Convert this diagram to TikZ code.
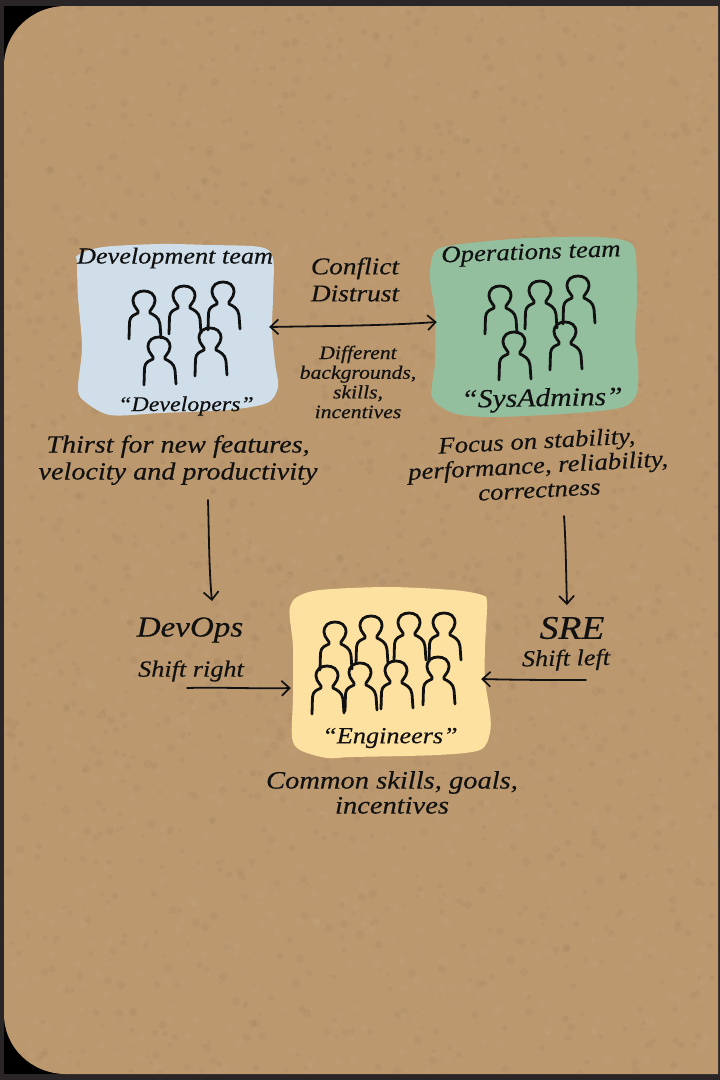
\documentclass[tikz,border=0pt]{standalone}
\usepackage{fontspec}
\setmainfont{Liberation Serif}[FakeStretch=1.14,FakeBold=0.4]
\usetikzlibrary{arrows.meta}
\definecolor{frame}{HTML}{2A2628}
\definecolor{paper}{HTML}{BC986F}
\definecolor{devblue}{HTML}{CFDEE8}
\definecolor{opsgreen}{HTML}{93BF9F}
\definecolor{engyellow}{HTML}{FDE1A0}
\definecolor{ink}{HTML}{111111}
\tikzset{
  x=1pt,y=-1pt,
  person/.pic={
    \draw[ink,line width=2.8pt,line cap=round,line join=round]
      (-15,37) -- (-14.5,20) .. controls (-14,14) and (-10,13) .. (-6,11)
      .. controls (-4,9) and (-11,5) .. (-11,-1)
      .. controls (-11,-8) and (-6,-11) .. (0,-11)
      .. controls (6,-11) and (11,-8) .. (11,-1)
      .. controls (11,5) and (4,9) .. (6,11)
      .. controls (10,13) and (15,15) .. (16,22) -- (17,36);
  },
  blobhit/.style={inner sep=0pt,minimum width=#1,minimum height=160pt},
  hand/.style 2 args={font=\itshape\fontsize{#1}{#2}\selectfont,text=ink,inner sep=0pt,align=center},
  conn/.style={ink,line width=1.8pt,line cap=round,-{Straight Barb[length=8pt,width=15pt,line width=1.7pt]}},
  dconn/.style={ink,line width=1.8pt,line cap=round,{Straight Barb[length=8pt,width=15pt,line width=1.7pt]}-{Straight Barb[length=8pt,width=15pt,line width=1.7pt]}},
}
\begin{document}
\begin{tikzpicture}
\useasboundingbox (0,0) rectangle (720,1080);
\fill[frame] (0,0) rectangle (720,1080);
\fill[black] (4,6) rectangle (80,80);
\fill[black] (4,1000) rectangle (80,1074);
\path[save path=\papershape] (4,66) .. controls (4,32) and (32,6) .. (66,6) -- (718,6) -- (718,1074) -- (66,1074) .. controls (32,1074) and (4,1048) .. (4,1014) -- cycle;
\fill[paper,use path=\papershape];
\begin{scope}
\clip[use path=\papershape];
\pgfmathsetseed{7}
\foreach \i in {1,...,1500}{
  \pgfmathsetmacro\rx{random(4,718)}
  \pgfmathsetmacro\ry{random(6,1074)}
  \pgfmathsetmacro\rr{1.5+3*rnd}
  \fill[black!30!paper,opacity=.10] (\rx,\ry) circle[radius=\rr];
}
\foreach \i in {1,...,1500}{
  \pgfmathsetmacro\rx{random(4,718)}
  \pgfmathsetmacro\ry{random(6,1074)}
  \pgfmathsetmacro\rr{1.5+3*rnd}
  \fill[white!25!paper,opacity=.10] (\rx,\ry) circle[radius=\rr];
}
\end{scope}

% team panels
\fill[devblue] plot[smooth cycle,tension=.5] coordinates {(78,255)(103,247)(160,244)(210,245)(260,247)(273,258)(273,297)(272,330)(275,363)(278,387)(267,403)(227,410)(160,413)(110,415)(83,400)(78,387)(82,347)(78,297)(77,263)};
\fill[opsgreen] plot[smooth cycle,tension=.5] coordinates {(432,258)(440,248)(470,243)(527,238)(593,237)(623,240)(635,250)(637,297)(635,337)(638,363)(637,393)(623,407)(577,413)(493,417)(453,413)(432,397)(435,363)(435,313)(430,280)};
\fill[engyellow] plot[smooth cycle,tension=.5] coordinates {(290,607)(297,597)(320,590)(387,587)(453,590)(482,595)(487,603)(485,647)(485,680)(490,713)(490,733)(480,750)(437,755)(353,757)(327,758)(300,750)(292,737)(293,697)(293,647)(290,620)};

\node[blobhit=184pt] (dev) at (177,327) {};
\node[blobhit=194pt] (ops) at (534,322) {};
\node[blobhit=194pt] (eng) at (388,672) {};

% people
\foreach \p/\q in {144/302,184/297,223/293,159/348,210/339,
                   500/297,540/292,578/287,514/343,565/333,
                   335/633,371/627,409/624,444/624,327/677,360/674,396/672,438/668}
  \pic at (\p,\q) {person};

% text
\node[hand={23}{23}] (devtitle) at (175,258) {Development team};
\node[hand={23.5}{24},rotate=2] (opstitle) at (531,254) {Operations team};
\node[hand={21}{21}] (devname) at (186,406) {“Developers”};
\node[hand={26}{26},rotate=1] (opsname) at (542,400) {“SysAdmins”};
\node[hand={23}{23}] (engname) at (390,738) {“Engineers”};
\node[hand={24}{27}] (conflict) at (355,279.5) {Conflict\\Distrust};
\node[hand={19}{19.7}] (differ) at (358,382) {Different\\backgrounds,\\skills,\\incentives};
\node[hand={24.7}{27}] (thirst) at (178,460) {Thirst for new features,\\velocity and productivity};
\node[hand={23.5}{24.5},rotate=3] (focus) at (538,465) {Focus on stability,\\performance, reliability,\\correctness};
\node[hand={29}{29}] (devops) at (190,630) {DevOps};
\node[hand={23}{23}] (shiftr) at (191,671) {Shift right};
\node[hand={33}{33}] (sre) at (572,628) {SRE};
\node[hand={23}{23},rotate=1] (shiftl) at (566,660) {Shift left};
\node[hand={25}{25}] (common) at (392,792.5) {Common skills, goals,\\incentives};

% connectors
\coordinate (thirstout) at (208,500);
\coordinate (devopsin) at (212,601);
\coordinate (focusout) at (564,516);
\coordinate (srein) at (567,605);
\coordinate (shiftrout) at (187,688);
\coordinate (shiftlout) at (586,680);
\draw[dconn] (dev.east) .. controls (320,326) and (380,326) .. (ops.west);
\draw[conn] (thirstout) .. controls (209,535) and (209,570) .. (devopsin);
\draw[conn] (focusout) .. controls (566,545) and (566,575) .. (srein);
\draw[conn] (shiftrout) .. controls (220,687) and (260,689) .. ([yshift=-16pt]eng.west);
\draw[conn] (shiftlout) .. controls (550,680) and (520,680) .. ([xshift=-4pt,yshift=-7pt]eng.east);
\end{tikzpicture}
\end{document}
